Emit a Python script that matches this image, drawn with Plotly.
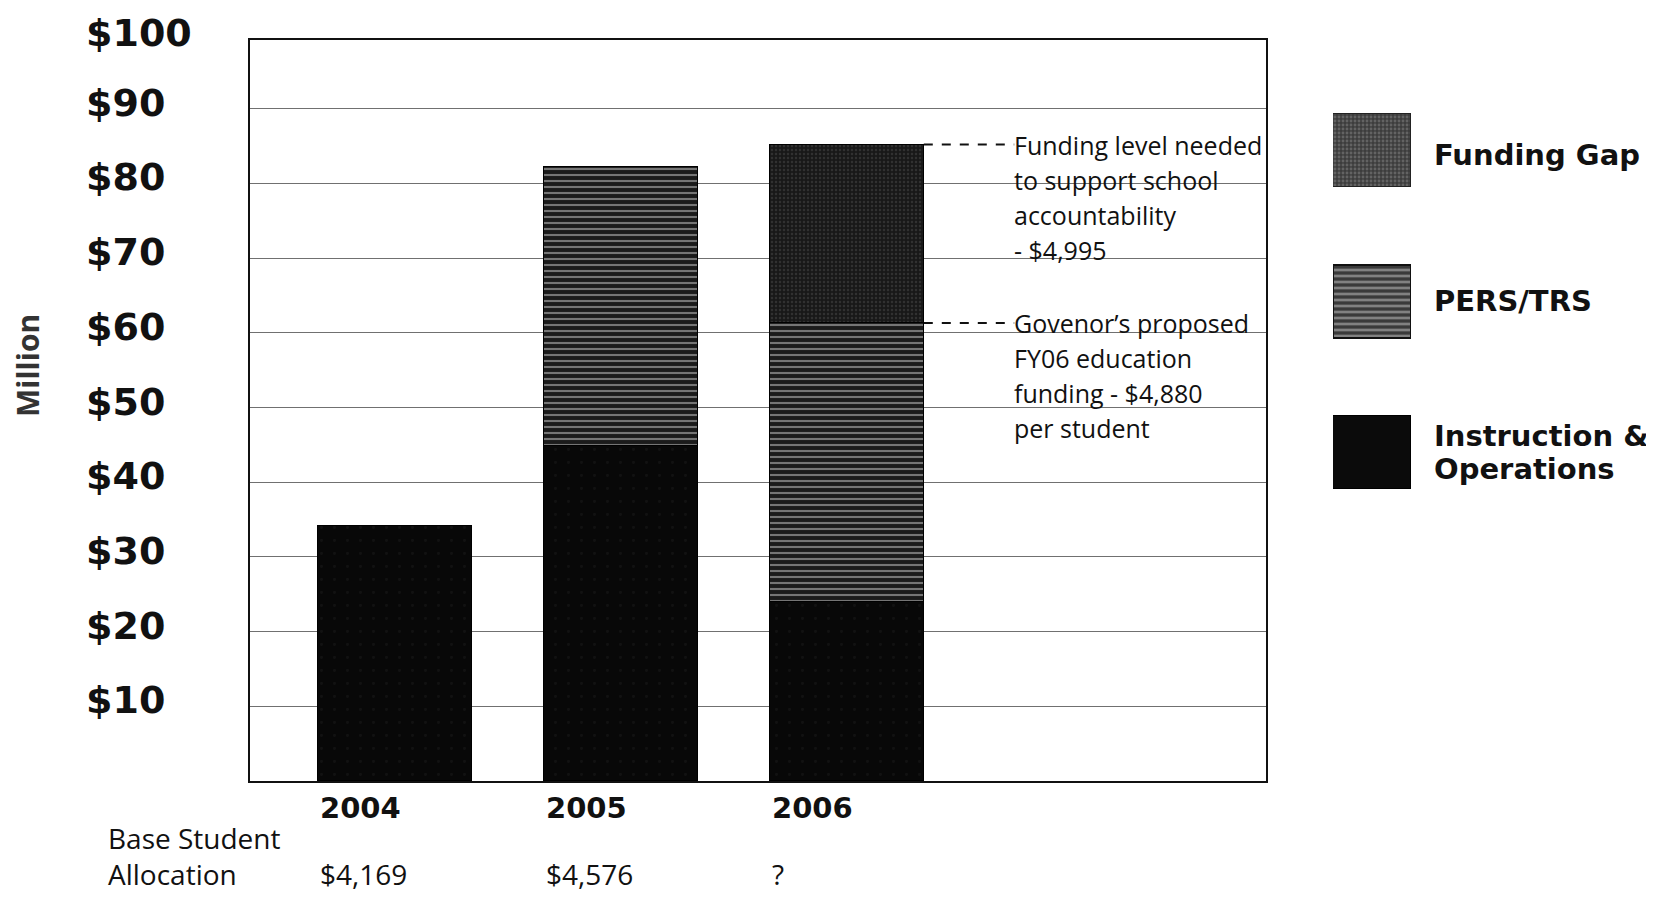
import plotly.graph_objects as go

# ---------------- data ----------------
years = [2004, 2005, 2006]
instruction = [34.2, 44.8, 24.0]
pers_trs = [0.0, 37.4, 37.3]
funding_gap = [0.0, 0.0, 23.9]
series_names = ["Funding Gap", "PERS/TRS", "Instruction &", "Operations"]
y_ticks = [10, 20, 30, 40, 50, 60, 70, 80, 90, 100]
y_tick_labels = ["$10", "$20", "$30", "$40", "$50", "$60", "$70", "$80", "$90", "$100"]
allocation = ["$4,169", "$4,576", "?"]
allocation_title = ["Base Student", "Allocation"]
note_top = ["Funding level needed", "to support school", "accountability", "- $4,995"]
note_mid = ["Govenor\u2019s proposed", "FY06 education", "funding - $4,880", "per student"]
y_title = "Million"

W, H = 1654, 899
def px(x):
    return x / W
def py(y):
    return 1 - y / H

Y_MAX = 99.2
BAR_W = 0.68
pers_top = [a + b for a, b in zip(instruction, pers_trs)]
gap_top = [a + b for a, b in zip(pers_top, funding_gap)]

def nz(vals):
    return [v if v else None for v in vals]

BOLD = "DejaVu Sans"
REG = "Open Sans"

fig = go.Figure()

fig.add_trace(go.Bar(
    x=years, y=nz(instruction), width=BAR_W, name="Instruction & Operations",
    marker=dict(color="#080808", line=dict(color="#000", width=1.5),
                pattern=dict(shape=".", fgcolor="#1c1c1c", size=13, solidity=0.04)),
))
fig.add_trace(go.Bar(
    x=years, y=nz(pers_trs), width=BAR_W, name="PERS/TRS",
    marker=dict(color="#1b1b1b", line=dict(color="#000", width=1.5),
                pattern=dict(shape="-", fgcolor="#cfcfcf", size=6, solidity=0.35)),
))
fig.add_trace(go.Bar(
    x=years, y=nz(funding_gap), width=BAR_W, name="Funding Gap",
    marker=dict(color="#181818", line=dict(color="#000", width=1.5),
                pattern=dict(shape=".", fgcolor="#4a4a4a", size=4, solidity=0.3)),
))

# legend swatches (second subplot)
leg_pos = [0, 1, 2]
fig.add_trace(go.Bar(
    x=[1], y=[leg_pos[0]], orientation="h", width=0.48, xaxis="x2", yaxis="y2",
    marker=dict(color="#3d3d3d", line=dict(color="#222", width=1.5),
                pattern=dict(shape=".", fgcolor="#8a8a8a", size=4, solidity=0.4)),
))
fig.add_trace(go.Bar(
    x=[1], y=[leg_pos[1]], orientation="h", width=0.48, xaxis="x2", yaxis="y2",
    marker=dict(color="#3a3a3a", line=dict(color="#111", width=2),
                pattern=dict(shape="-", fgcolor="#c8c8c8", size=6, solidity=0.45)),
))
fig.add_trace(go.Bar(
    x=[1], y=[leg_pos[2]], orientation="h", width=0.48, xaxis="x2", yaxis="y2",
    marker=dict(color="#0b0b0b", line=dict(color="#000", width=1)),
))

ann = []
# y tick labels (placed on the axis domain so the top label can sit above the frame)
for v, t in zip(y_ticks, y_tick_labels):
    ann.append(dict(x=px(76), xref="paper", y=v / Y_MAX, yref="y domain", text=t,
                    showarrow=False, xanchor="left", yanchor="middle",
                    yshift=6 if v < y_ticks[-1] else 1,
                    font=dict(family=BOLD, size=38, color="#111", weight="bold")))
# year labels and allocations
for yr, al in zip(years, allocation):
    ann.append(dict(x=yr - BAR_W / 2, xref="x", y=py(800), yref="paper", text=str(yr),
                    showarrow=False, xanchor="left", yanchor="middle",
                    font=dict(family=BOLD, size=29, color="#111", weight="bold")))
    ann.append(dict(x=yr - BAR_W / 2, xref="x", y=py(866), yref="paper", text=al,
                    showarrow=False, xanchor="left", yanchor="middle",
                    font=dict(family=REG, size=28, color="#111")))
ann.append(dict(x=px(98), xref="paper", y=py(830), yref="paper", text=allocation_title[0],
                showarrow=False, xanchor="left", yanchor="middle",
                font=dict(family=REG, size=28, color="#111")))
ann.append(dict(x=px(98), xref="paper", y=py(866), yref="paper", text=allocation_title[1],
                showarrow=False, xanchor="left", yanchor="middle",
                font=dict(family=REG, size=28, color="#111")))
# y title
ann.append(dict(x=px(20), xref="paper", y=py(358), yref="paper", text=y_title, textangle=-90,
                showarrow=False, xanchor="center", yanchor="middle",
                font=dict(family=REG, size=30, color="#333", weight="bold")))

# right-side notes
note_x = years[2] + 0.73
for base_y, lines in ((gap_top[2], note_top), (pers_top[2], note_mid)):
    for i, line in enumerate(lines):
        ann.append(dict(x=note_x, xref="x", y=base_y, yref="y", text=line, showarrow=False,
                        xanchor="left", yanchor="middle", yshift=-35 * i,
                        font=dict(family=REG, size=25, color="#111")))

# legend labels
leg_label_y = [147, 293, 428, 461]
for name, yy in zip(series_names, leg_label_y):
    ann.append(dict(x=px(1424), xref="paper", y=py(yy), yref="paper", text=name,
                    showarrow=False, xanchor="left", yanchor="middle",
                    font=dict(family=BOLD, size=29, color="#111", weight="bold")))

shapes = []
for yv in (gap_top[2], pers_top[2]):
    shapes.append(dict(type="line", xref="x", yref="y",
                       x0=years[2] + BAR_W / 2, x1=note_x + 0.01, y0=yv, y1=yv,
                       line=dict(color="#111", width=2, dash="dash")))

fig.update_layout(
    width=W, height=H, margin=dict(l=0, r=0, t=0, b=0),
    paper_bgcolor="white", plot_bgcolor="white",
    barmode="stack", bargap=0, showlegend=False,
    xaxis=dict(domain=[px(242), px(1258)], range=[years[0] - 0.641, years[0] + 3.854],
               showgrid=False, showticklabels=False, ticks="", zeroline=False,
               showline=True, mirror=True, linecolor="#111", linewidth=2),
    yaxis=dict(domain=[py(773), py(32)], range=[0, Y_MAX], tickvals=y_ticks,
               showticklabels=False, ticks="", showgrid=True, gridcolor="#707070",
               gridwidth=1.4, zeroline=False,
               showline=True, mirror=True, linecolor="#111", linewidth=2),
    xaxis2=dict(domain=[px(1325), px(1403)], range=[0, 1], visible=False, anchor="y2"),
    yaxis2=dict(domain=[py(520), py(67)], range=[2.5, -0.5], visible=False, anchor="x2"),
    annotations=ann, shapes=shapes,
)

fig.write_html("out.html")
